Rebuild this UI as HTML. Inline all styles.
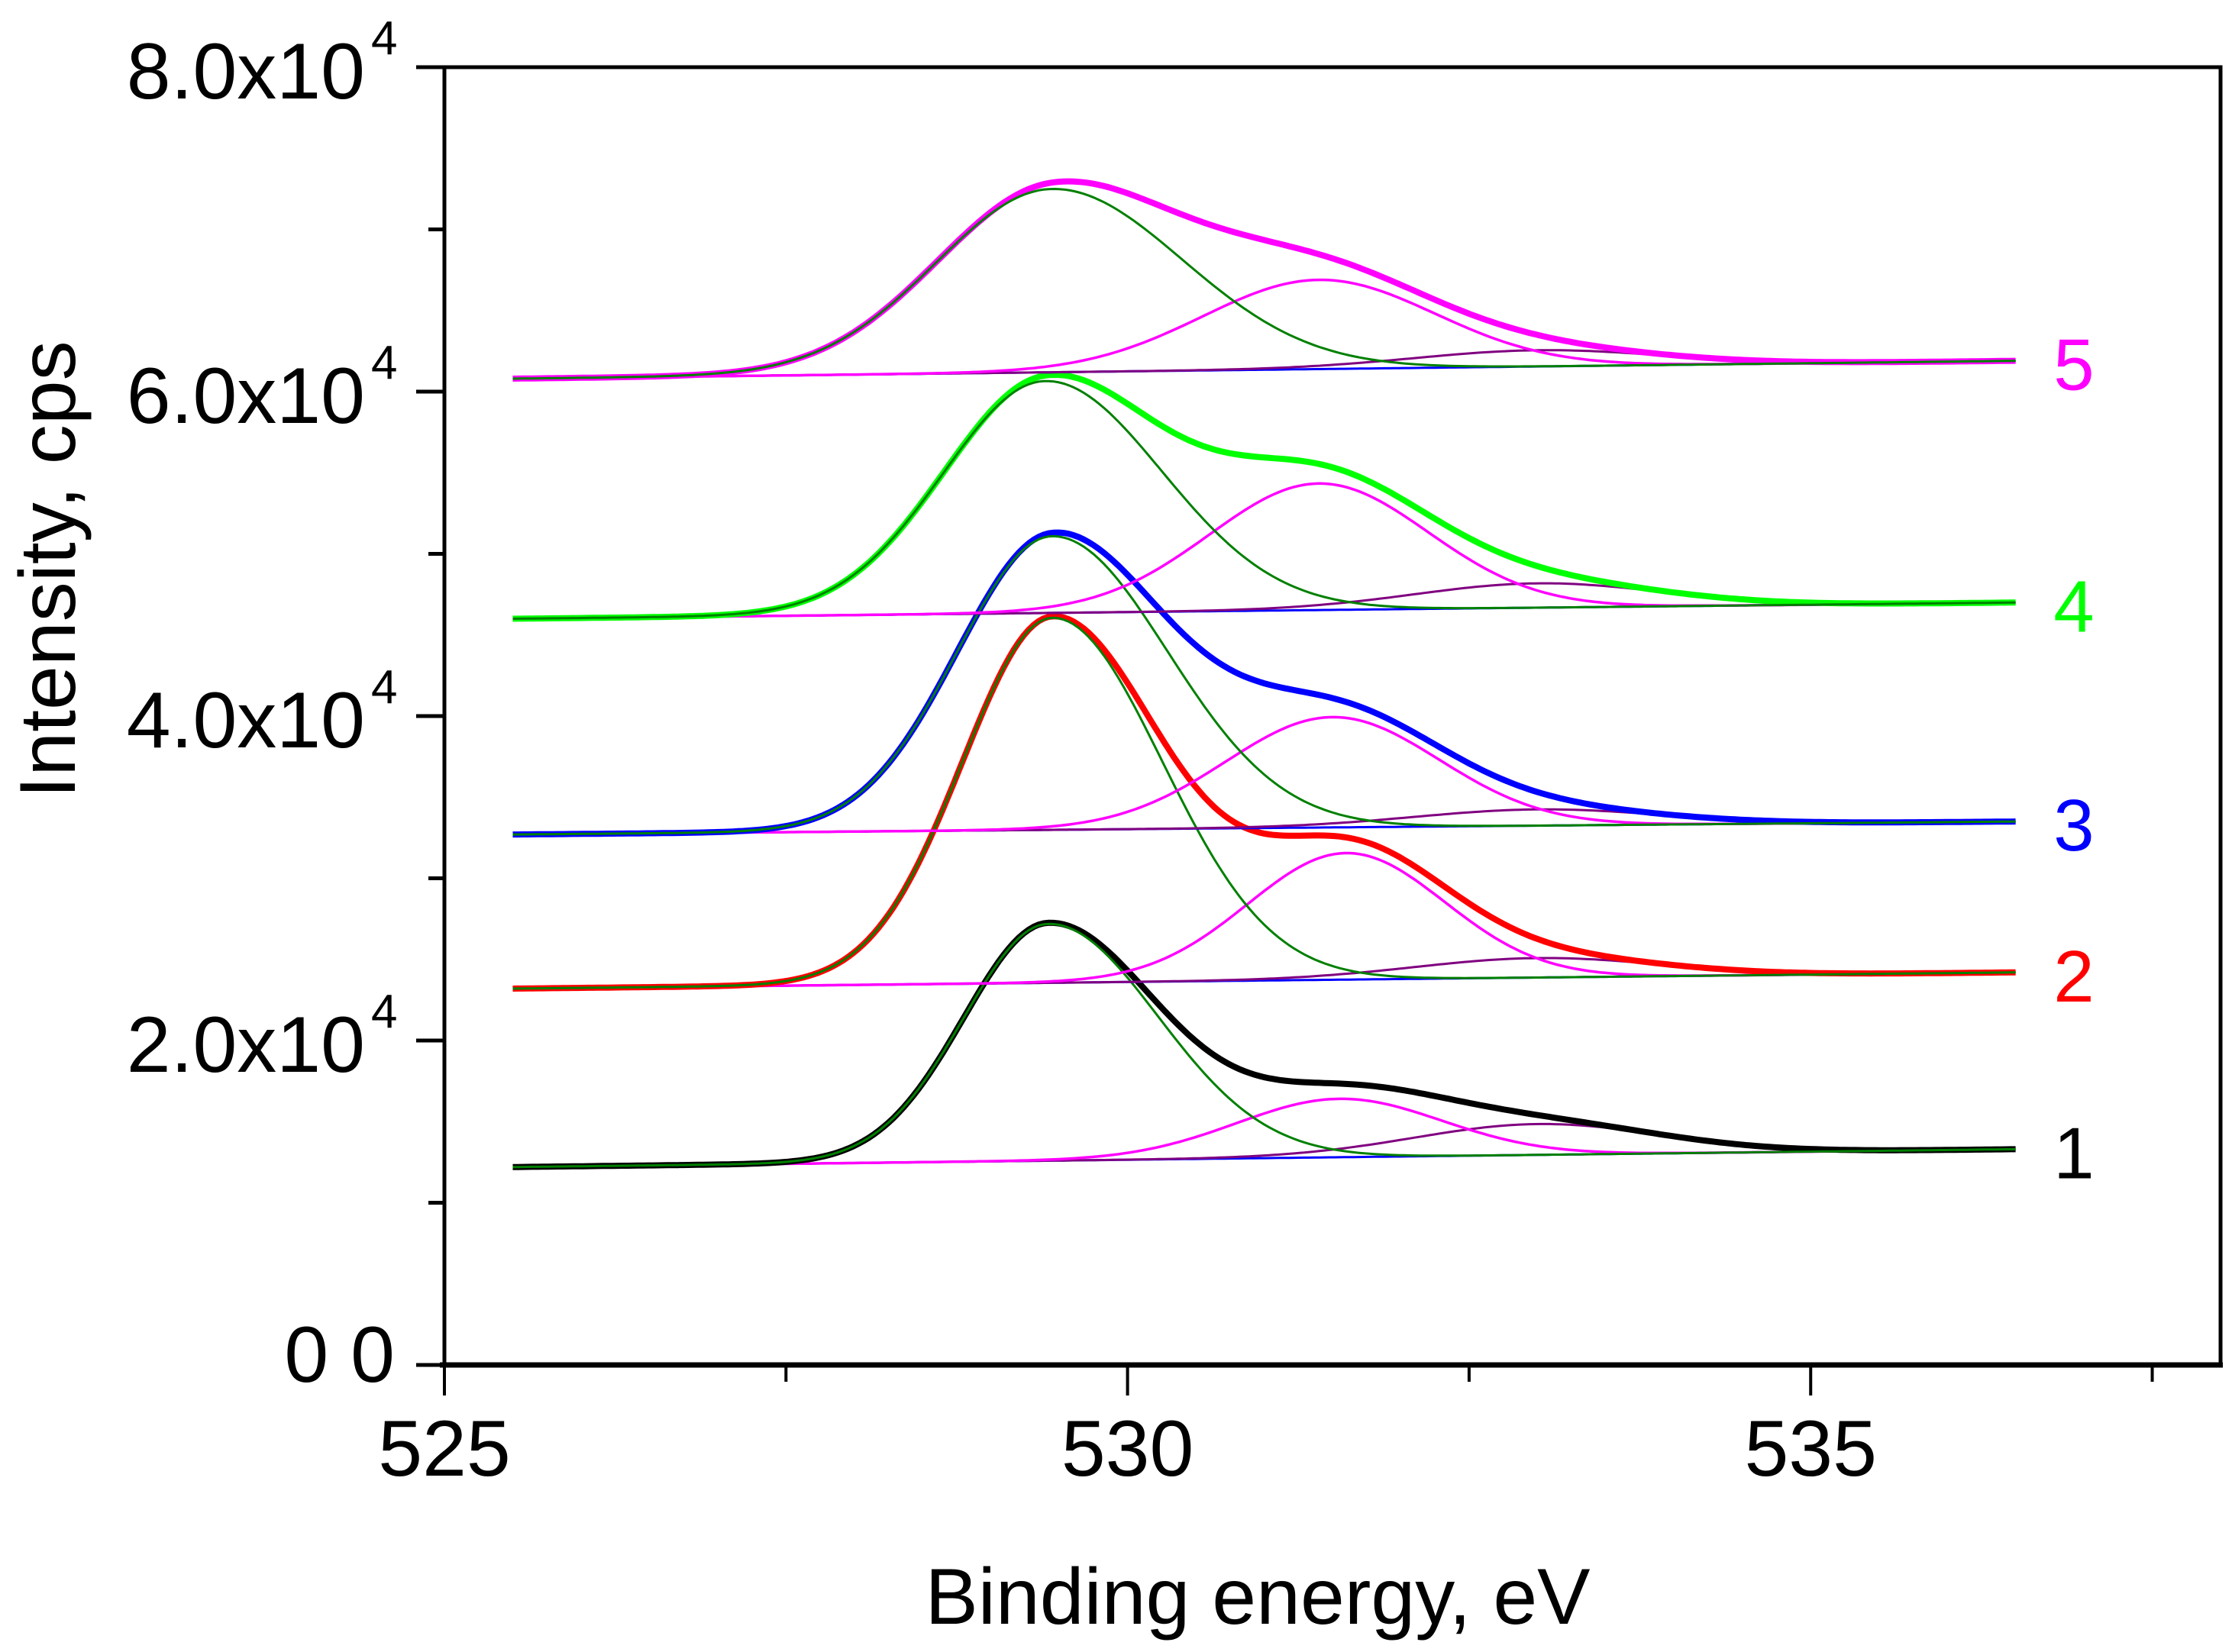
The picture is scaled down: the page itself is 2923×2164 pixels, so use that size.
<!DOCTYPE html>
<html><head><meta charset="utf-8"><style>
html,body{margin:0;padding:0;background:#fff}
svg{display:block;font-family:"Liberation Sans",sans-serif}
</style></head><body>
<svg id="chart" width="2923" height="2164" viewBox="0 0 2923 2164" xmlns="http://www.w3.org/2000/svg">
<rect width="2923" height="2164" fill="#fff"/>
<g id="series"></g>
<g id="axes"></g>
</svg>
<script>
const xTicks = [525, 530, 535];
const xMinorTicks = [527.5, 532.5, 537.5];
const yTicks = [0, 20000, 40000, 60000, 80000];
const yTickLabels = ["0 0", "2.0x10", "4.0x10", "6.0x10", "8.0x10"];
const yMinorTicks = [10000, 30000, 50000, 70000];
const spectrumLabels = ["1", "2", "3", "4", "5"];
const spectrumColors = ["#000000", "#ff0000", "#0000ff", "#00ff00", "#ff00ff"];
const xStart = 525.5, xEnd = 536.5;
// per-spectrum baseline (left, right)
const baseLeft = [12200, 23200, 32700, 46000, 60800];
const baseRight = [13300, 24200, 33500, 47000, 61900];
// component 1 (green, lattice O), asymmetric widths
const c1Center = [529.42, 529.45, 529.45, 529.4, 529.45];
const c1Amp = [14600, 22500, 18100, 14300, 11300];
const c1SigmaL = [0.62, 0.66, 0.7, 0.75, 0.85];
const c1SigmaR = [0.8, 0.8, 0.84, 0.85, 0.95];
// component 2 (magenta)
const c2Center = [531.55, 531.6, 531.5, 531.4, 531.4];
const c2Amp = [3600, 7800, 6800, 7800, 5500];
const c2Sigma = [0.75, 0.72, 0.78, 0.8, 0.85];
// component 3 (purple)
const c3Center = [533.0, 533.0, 533.0, 533.0, 533.0];
const c3Amp = [1900, 1200, 1000, 1500, 1000];
const c3Sigma = [0.9, 0.9, 0.9, 0.9, 0.9];

const X0 = 582, X1 = 2908, XMIN = 525, XMAX = 538;
const Y0 = 1788, Y1 = 88, YMIN = 0, YMAX = 80000;
function sx(v){return X0 + (v - XMIN) / (XMAX - XMIN) * (X1 - X0);}
function sy(v){return Y0 - (v - YMIN) / (YMAX - YMIN) * (Y0 - Y1);}
const NS = "http://www.w3.org/2000/svg";
const series = document.getElementById("series");
const axes = document.getElementById("axes");
function mk(tag, attrs, parent){const e = document.createElementNS(NS, tag); for (const k in attrs) e.setAttribute(k, attrs[k]); parent.appendChild(e); return e;}
function g(x, c, a, s){return a * Math.exp(-0.5 * ((x - c) / s) ** 2);}
function ga(x, c, a, sl, sr){return g(x, c, a, x < c ? sl : sr);}
function base(i, x){return baseLeft[i] + (baseRight[i] - baseLeft[i]) * (x - xStart) / (xEnd - xStart);}
function pathFor(fn){let d = ""; const n = 300; for (let k = 0; k <= n; k++){const x = xStart + (xEnd - xStart) * k / n; d += (k ? "L" : "M") + sx(x).toFixed(1) + "," + sy(fn(x)).toFixed(1);} return d;}

for (let i = 0; i < spectrumLabels.length; i++){
  const grp = mk("g", {}, series);
  
  
  const bl = mk("path", {d: pathFor(x => base(i, x)), fill: "none", stroke: "#0000ff", "stroke-width": 3}, grp);
  
  
  const p3 = mk("path", {d: pathFor(x => base(i, x) + g(x, c3Center[i], c3Amp[i], c3Sigma[i])), fill: "none", stroke: "#800080", "stroke-width": 3}, grp);
  
  
  const p2 = mk("path", {d: pathFor(x => base(i, x) + g(x, c2Center[i], c2Amp[i], c2Sigma[i])), fill: "none", stroke: "#ff00ff", "stroke-width": 3.5}, grp);
  
  
  const env = mk("path", {d: pathFor(x => base(i, x) + ga(x, c1Center[i], c1Amp[i], c1SigmaL[i], c1SigmaR[i]) + g(x, c2Center[i], c2Amp[i], c2Sigma[i]) + g(x, c3Center[i], c3Amp[i], c3Sigma[i])), fill: "none", stroke: spectrumColors[i], "stroke-width": 8}, grp);
  
  
  const p1 = mk("path", {d: pathFor(x => base(i, x) + ga(x, c1Center[i], c1Amp[i], c1SigmaL[i], c1SigmaR[i])), fill: "none", stroke: "#008000", "stroke-width": 3}, grp);
  
  
  const lbl = mk("text", {x: 2716, y: sy(baseRight[i]) + 38, "font-size": 96, fill: spectrumColors[i], "text-anchor": "middle"}, grp);
  lbl.textContent = spectrumLabels[i];
  
  
}

const frame = mk("rect", {x: X0, y: Y1, width: X1 - X0, height: Y0 - Y1, fill: "none", stroke: "#000", "stroke-width": 5}, axes);


const bax = mk("line", {x1: X0 - 6, x2: X1 + 3, y1: Y0, y2: Y0, stroke: "#000", "stroke-width": 7}, axes);



xTicks.forEach(v => {
  const t = mk("line", {x1: sx(v), x2: sx(v), y1: Y0, y2: Y0 + 40, stroke: "#000", "stroke-width": 4}, axes);
  
  
  const l = mk("text", {x: sx(v), y: 1933, "font-size": 104, "text-anchor": "middle"}, axes);
  l.textContent = v;
  
  
});
xMinorTicks.forEach(v => {
  const t = mk("line", {x1: sx(v), x2: sx(v), y1: Y0, y2: Y0 + 22, stroke: "#000", "stroke-width": 4}, axes);
  
  
});
yTicks.forEach((v, k) => {
  const t = mk("line", {x1: X0 - 37, x2: X0, y1: sy(v), y2: sy(v), stroke: "#000", "stroke-width": 5}, axes);
  
  
  const l = mk("text", {x: k === 0 ? 517 : 478, y: k === 0 ? sy(v) + 22 : sy(v) + 41, "font-size": 104, "text-anchor": "end"}, axes);
  l.textContent = yTickLabels[k];
  
  
  if (k > 0){
    const s = mk("text", {x: 486, y: sy(v) - 17, "font-size": 62}, axes);
    s.textContent = "4";
    
    
  }
});
yMinorTicks.forEach(v => {
  const t = mk("line", {x1: X0 - 21, x2: X0, y1: sy(v), y2: sy(v), stroke: "#000", "stroke-width": 5}, axes);
  
  
});
const xt = mk("text", {x: 1647, y: 2127, "font-size": 104, "text-anchor": "middle"}, axes);
xt.textContent = "Binding energy, eV";


const yt = mk("text", {x: 0, y: 0, "font-size": 104, "text-anchor": "middle", transform: "translate(98,746) rotate(-90)"}, axes);
yt.textContent = "Intensity, cps";


</script>
</body></html>
